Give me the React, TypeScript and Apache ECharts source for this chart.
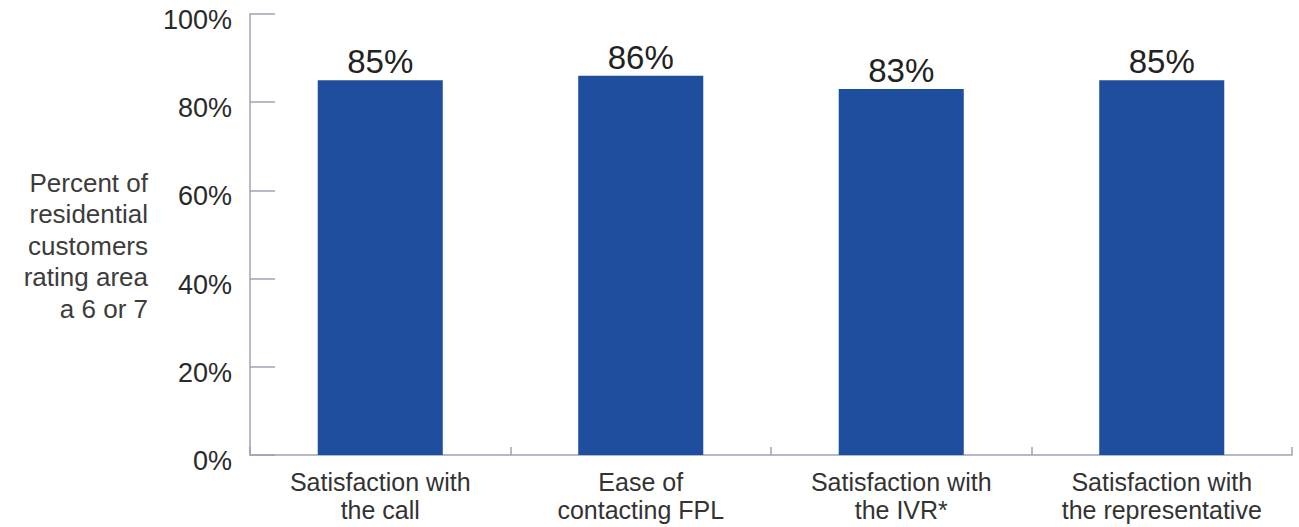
import React, { useEffect, useRef } from "react";
import * as echarts from "echarts";

const categories = [
  "Satisfaction with\nthe call",
  "Ease of\ncontacting FPL",
  "Satisfaction with\nthe IVR*",
  "Satisfaction with\nthe representative",
];
const ratings = [85, 86, 83, 85];
const yTitleLines = ["Percent of", "residential", "customers", "rating area", "a 6 or 7"];

const FONT = "'Liberation Sans', Arial, Helvetica, sans-serif";
const AXIS_COLOR = "#9ea2b6";
const BAR_COLOR = "#1f4e9e";

export default function App() {
  const ref = useRef<HTMLDivElement>(null);

  useEffect(() => {
    document.body.style.margin = "0";
    if (!ref.current) return;
    const chart = echarts.init(ref.current, undefined, { renderer: "svg" });
    chart.setOption({
      animation: false,
      backgroundColor: "#ffffff",
      textStyle: { fontFamily: FONT },
      grid: { left: 250, right: 7, top: 14, bottom: 72, containLabel: false },
      graphic: [
        {
          type: "text",
          x: 148,
          y: 167,
          style: {
            text: yTitleLines.join("\n"),
            font: `26px ${FONT}`,
            lineHeight: 31.5,
            fill: "#3c3c3c",
            align: "right",
            verticalAlign: "top",
          },
        },
      ],
      xAxis: {
        type: "category",
        data: categories,
        axisLine: { show: true, lineStyle: { color: AXIS_COLOR, width: 1.5 } },
        axisTick: { show: true, inside: true, length: 8, lineStyle: { color: AXIS_COLOR, width: 1.5 } },
        axisLabel: {
          margin: 13,
          fontSize: 25,
          lineHeight: 28,
          color: "#333333",
          fontFamily: FONT,
        },
      },
      yAxis: {
        type: "value",
        min: 0,
        max: 100,
        interval: 20,
        splitLine: { show: false },
        axisLine: { show: true, lineStyle: { color: AXIS_COLOR, width: 1.5 } },
        axisTick: { show: true, inside: true, length: 25, lineStyle: { color: AXIS_COLOR, width: 1.5 } },
        axisLabel: {
          formatter: "{value}%",
          margin: 18,
          fontSize: 27,
          color: "#2a2a2a",
          fontFamily: FONT,
          verticalAlign: "top",
          lineHeight: 12,
        },
      },
      series: [
        {
          type: "bar",
          data: ratings,
          barWidth: "48%",
          itemStyle: { color: BAR_COLOR },
          label: {
            show: true,
            position: "top",
            distance: 2,
            formatter: "{c}%",
            fontSize: 33,
            color: "#222222",
            fontFamily: FONT,
          },
        },
      ],
    });
    return () => chart.dispose();
  }, []);

  return <div ref={ref} style={{ width: 1299, height: 527 }} />;
}
